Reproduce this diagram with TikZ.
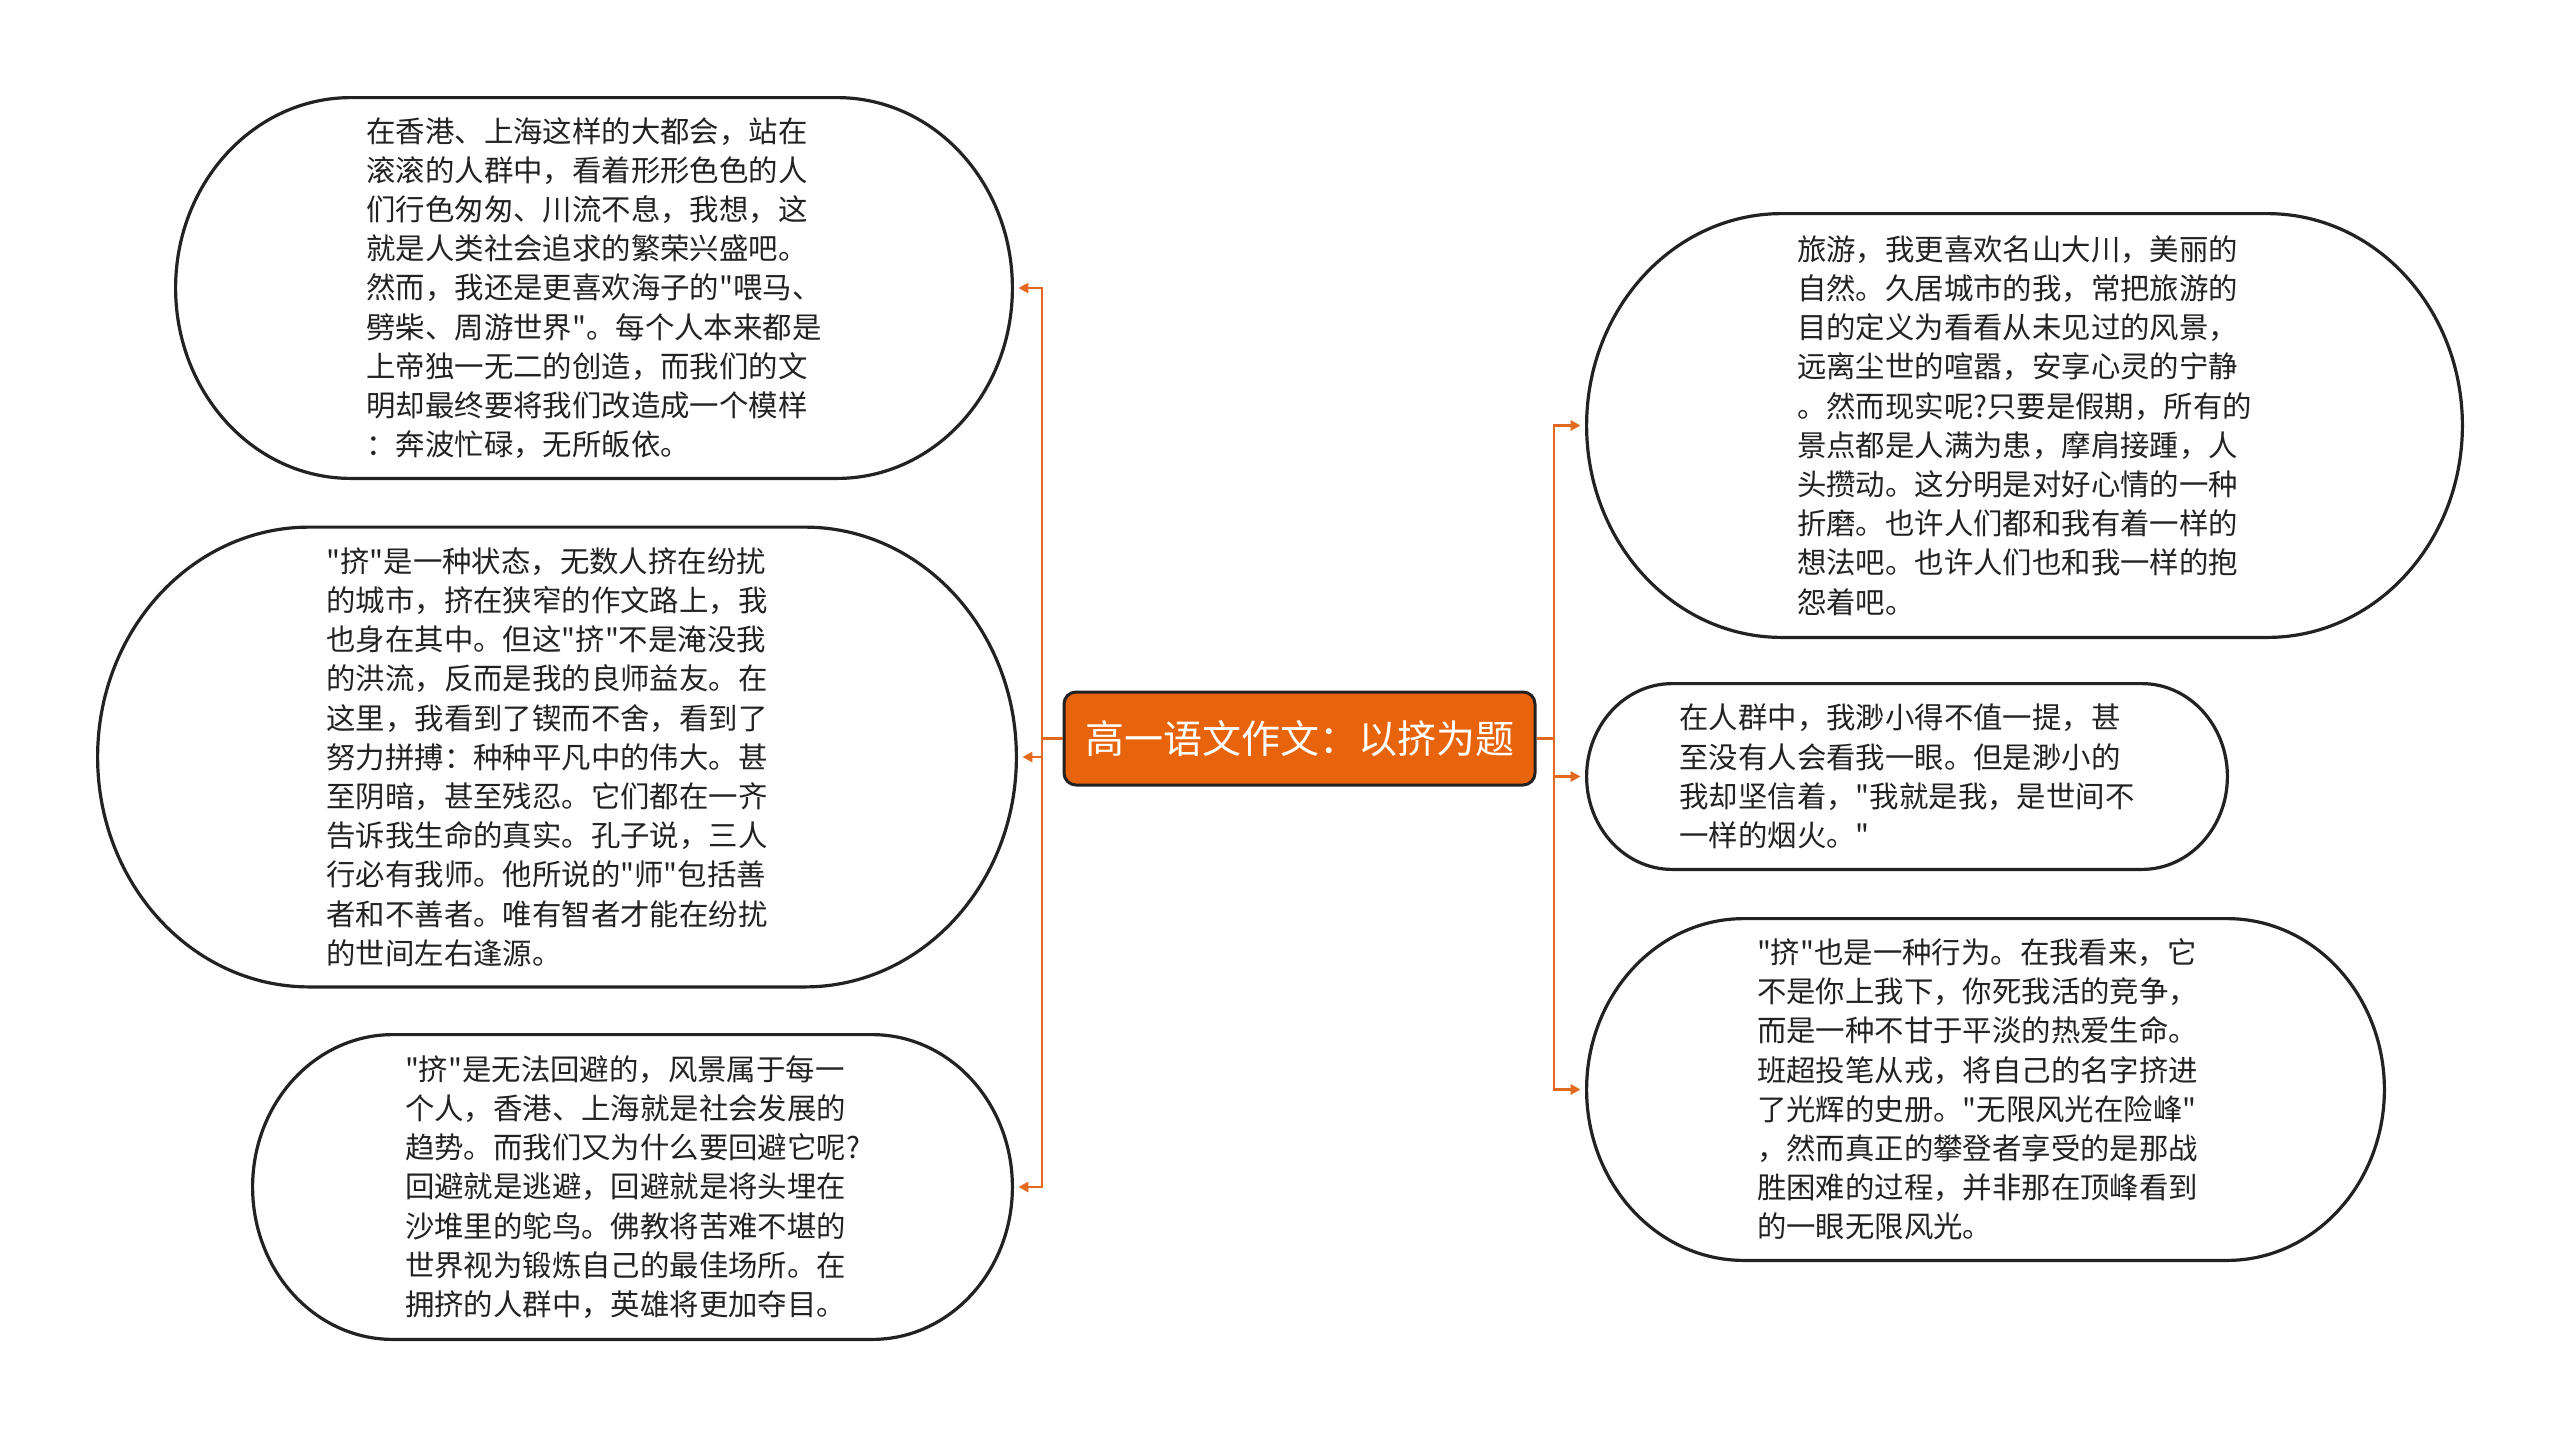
\documentclass[tikz,border=0pt]{standalone}
\usepackage{fontspec}
\newfontfamily\cjk{Noto Sans CJK SC}
\usetikzlibrary{calc,arrows.meta}
\definecolor{titleorange}{HTML}{E8640C}
\definecolor{lineorange}{HTML}{E2691E}
\definecolor{inkgray}{HTML}{222222}
\newcommand\drawstadium[1]{%
  \draw[boxline] let \p1=(#1.north west), \p2=(#1.south east),
    \n1={0.5*(\y1-\y2)}, \n2={0.92*\n1} in
    ({\x1+\n2*1pt},\y1) -- ({\x2-\n2*1pt},\y1)
    arc[start angle=90, end angle=-90, x radius={\n2*1pt}, y radius={\n1*1pt}]
    -- ({\x1+\n2*1pt},\y2)
    arc[start angle=270, end angle=90, x radius={\n2*1pt}, y radius={\n1*1pt}]
    -- cycle;}
\begin{document}
\begin{tikzpicture}[x=0.5pt,y=-0.5pt,
  txtbox/.style={draw=none, align=left, inner sep=0pt, shape=rectangle,
    font=\cjk\fontsize{14.7pt}{19.6pt}\selectfont, text=inkgray},
  boxline/.style={draw=inkgray, line width=1.6pt},
  titlebox/.style={draw=inkgray, line width=1.5pt, fill=titleorange,
    rounded corners=6pt, text=white, inner sep=0pt,
    font=\cjk\fontsize{19.5pt}{23pt}\selectfont},
  conn/.style={draw=lineorange, line width=1.4pt,
    -{Triangle[length=5pt,width=5pt]}, shorten >=3pt}]
\fill[white] (0,0) rectangle (2560,1437);
\useasboundingbox (0,0) rectangle (2560,1437);

\node[titlebox, minimum width=235.5pt, minimum height=46.5pt] (c) at (1299.5,738.5) {高一语文作文：以挤为题};

\node[txtbox, minimum width=418pt, minimum height=190pt] (b1) at (594,288) {在香港、上海这样的大都会，站在\\滚滚的人群中，看着形形色色的人\\们行色匆匆、川流不息，我想，这\\就是人类社会追求的繁荣兴盛吧。\\然而，我还是更喜欢海子的"喂马、\\劈柴、周游世界"。每个人本来都是\\上帝独一无二的创造，而我们的文\\明却最终要将我们改造成一个模样\\：奔波忙碌，无所皈依。};

\node[txtbox, minimum width=459pt, minimum height=229.5pt] (b2) at (557,757) {};
\node[txtbox] (b2text) at (547,757) {"挤"是一种状态，无数人挤在纷扰\\的城市，挤在狭窄的作文路上，我\\也身在其中。但这"挤"不是淹没我\\的洪流，反而是我的良师益友。在\\这里，我看到了锲而不舍，看到了\\努力拼搏：种种平凡中的伟大。甚\\至阴暗，甚至残忍。它们都在一齐\\告诉我生命的真实。孔子说，三人\\行必有我师。他所说的"师"包括善\\者和不善者。唯有智者才能在纷扰\\的世间左右逢源。};

\node[txtbox, minimum width=379.5pt, minimum height=152pt] (b3) at (632.5,1187) {"挤"是无法回避的，风景属于每一\\个人，香港、上海就是社会发展的\\趋势。而我们又为什么要回避它呢?\\回避就是逃避，回避就是将头埋在\\沙堆里的鸵鸟。佛教将苦难不堪的\\世界视为锻炼自己的最佳场所。在\\拥挤的人群中，英雄将更加夺目。};

\node[txtbox, minimum width=437.5pt, minimum height=211.5pt] (b4) at (2024.5,425.5) {旅游，我更喜欢名山大川，美丽的\\自然。久居城市的我，常把旅游的\\目的定义为看看从未见过的风景，\\远离尘世的喧嚣，安享心灵的宁静\\。然而现实呢?只要是假期，所有的\\景点都是人满为患，摩肩接踵，人\\头攒动。这分明是对好心情的一种\\折磨。也许人们都和我有着一样的\\想法吧。也许人们也和我一样的抱\\怨着吧。};

\node[txtbox, minimum width=320pt, minimum height=92.5pt] (b5) at (1907,776.5) {在人群中，我渺小得不值一提，甚\\至没有人会看我一眼。但是渺小的\\我却坚信着，"我就是我，是世间不\\一样的烟火。"};

\node[txtbox, minimum width=398.5pt, minimum height=170.5pt] (b6) at (1985.5,1089.5) {};
\node[txtbox] (b6text) at (1977.5,1089.5) {"挤"也是一种行为。在我看来，它\\不是你上我下，你死我活的竞争，\\而是一种不甘于平淡的热爱生命。\\班超投笔从戎，将自己的名字挤进\\了光辉的史册。"无限风光在险峰"\\，然而真正的攀登者享受的是那战\\胜困难的过程，并非那在顶峰看到\\的一眼无限风光。};

\drawstadium{b1}
\drawstadium{b2}
\drawstadium{b3}
\drawstadium{b4}
\drawstadium{b5}
\drawstadium{b6}

\coordinate (LT) at (1042,738.5);
\coordinate (RT) at (1554,738.5);
\draw[conn] (c.west) -- (LT) |- (b1.east);
\draw[conn] (c.west) -- (LT) |- (b2.east);
\draw[conn] (c.west) -- (LT) |- (b3.east);
\draw[conn] (c.east) -- (RT) |- (b4.west);
\draw[conn] (c.east) -- (RT) |- (b5.west);
\draw[conn] (c.east) -- (RT) |- (b6.west);
\end{tikzpicture}
\end{document}
